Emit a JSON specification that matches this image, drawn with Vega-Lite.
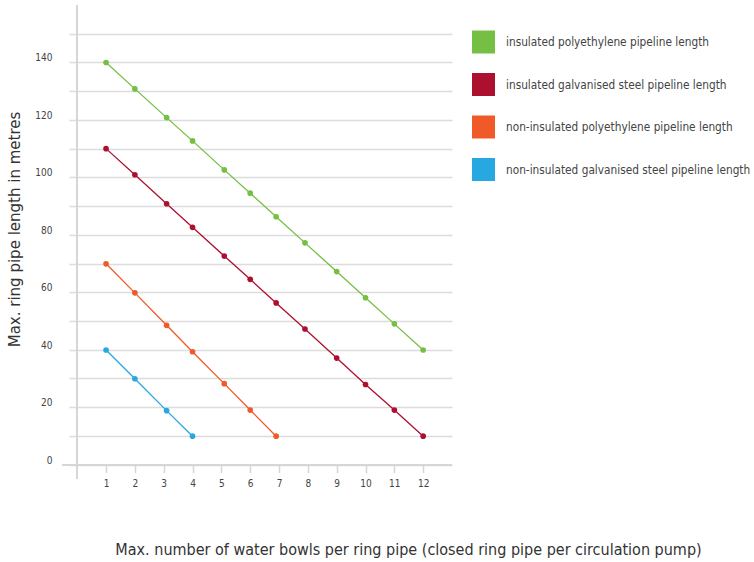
{
  "$schema": "https://vega.github.io/schema/vega-lite/v6.json",
  "width": 383,
  "height": 474,
  "autosize": {"type": "none"},
  "padding": {"left": 69, "top": 5, "right": 302, "bottom": 83},
  "background": "white",
  "config": {
    "view": {"stroke": null},
    "font": "Liberation Sans Narrow, DejaVu Sans Condensed, sans-serif"
  },
  "data": {
    "values": [
      {"series": "insulated polyethylene pipeline length", "bowls": 1, "length": 140},
      {"series": "insulated polyethylene pipeline length", "bowls": 2, "length": 130.8},
      {"series": "insulated polyethylene pipeline length", "bowls": 3.1, "length": 120.8},
      {"series": "insulated polyethylene pipeline length", "bowls": 4, "length": 112.7},
      {"series": "insulated polyethylene pipeline length", "bowls": 5.1, "length": 102.6},
      {"series": "insulated polyethylene pipeline length", "bowls": 6, "length": 94.5},
      {"series": "insulated polyethylene pipeline length", "bowls": 6.9, "length": 86.3},
      {"series": "insulated polyethylene pipeline length", "bowls": 7.9, "length": 77.2},
      {"series": "insulated polyethylene pipeline length", "bowls": 9, "length": 67.2},
      {"series": "insulated polyethylene pipeline length", "bowls": 10, "length": 58.1},
      {"series": "insulated polyethylene pipeline length", "bowls": 11, "length": 49},
      {"series": "insulated polyethylene pipeline length", "bowls": 12, "length": 39.9},
      {"series": "insulated galvanised steel pipeline length", "bowls": 1, "length": 110},
      {"series": "insulated galvanised steel pipeline length", "bowls": 2, "length": 100.9},
      {"series": "insulated galvanised steel pipeline length", "bowls": 3.1, "length": 90.8},
      {"series": "insulated galvanised steel pipeline length", "bowls": 4, "length": 82.6},
      {"series": "insulated galvanised steel pipeline length", "bowls": 5.1, "length": 72.6},
      {"series": "insulated galvanised steel pipeline length", "bowls": 6, "length": 64.5},
      {"series": "insulated galvanised steel pipeline length", "bowls": 6.9, "length": 56.3},
      {"series": "insulated galvanised steel pipeline length", "bowls": 7.9, "length": 47.2},
      {"series": "insulated galvanised steel pipeline length", "bowls": 9, "length": 37.1},
      {"series": "insulated galvanised steel pipeline length", "bowls": 10, "length": 27.9},
      {"series": "insulated galvanised steel pipeline length", "bowls": 11, "length": 19},
      {"series": "insulated galvanised steel pipeline length", "bowls": 12, "length": 9.9},
      {"series": "non-insulated polyethylene pipeline length", "bowls": 1, "length": 69.9},
      {"series": "non-insulated polyethylene pipeline length", "bowls": 2, "length": 59.8},
      {"series": "non-insulated polyethylene pipeline length", "bowls": 3.1, "length": 48.5},
      {"series": "non-insulated polyethylene pipeline length", "bowls": 4, "length": 39.3},
      {"series": "non-insulated polyethylene pipeline length", "bowls": 5.1, "length": 28.2},
      {"series": "non-insulated polyethylene pipeline length", "bowls": 6, "length": 19},
      {"series": "non-insulated polyethylene pipeline length", "bowls": 6.9, "length": 9.9},
      {"series": "non-insulated galvanised steel pipeline length", "bowls": 1, "length": 39.9},
      {"series": "non-insulated galvanised steel pipeline length", "bowls": 2, "length": 29.9},
      {"series": "non-insulated galvanised steel pipeline length", "bowls": 3.1, "length": 18.8},
      {"series": "non-insulated galvanised steel pipeline length", "bowls": 4, "length": 9.9}
    ]
  },
  "layer": [
    {
      "mark": {"type": "rule", "color": "#d6d6d6", "strokeWidth": 1.5},
      "encoding": {"x": {"datum": 0}}
    },
    {
      "mark": {"type": "rule", "color": "#d6d6d6", "strokeWidth": 1.5},
      "encoding": {"y": {"datum": 0}, "x": {"datum": -0.5}, "x2": {"datum": 13}}
    },
    {
      "encoding": {
        "x": {
          "field": "bowls",
          "type": "quantitative",
          "scale": {"domain": [-0.285, 13], "nice": false, "zero": false},
          "axis": {
            "values": [1, 2, 3, 4, 5, 6, 7, 8, 9, 10, 11, 12],
            "tickCount": 40,
            "format": "d",
            "offset": -14.4,
            "grid": false,
            "domain": false,
            "ticks": true,
            "tickColor": "#d6d6d6",
            "tickWidth": 1.5,
            "tickSize": 8,
            "labelPadding": 6,
            "labelFontSize": 10,
            "labelColor": "#444444",
            "labelOverlap": false,
            "title": "Max. number of water bowls per ring pipe (closed ring pipe per circulation pump)",
            "titleFontSize": 16,
            "titleFontWeight": "normal",
            "titleColor": "#333333",
            "titleX": 339,
            "titleY": 85,
            "titleBaseline": "middle",
            "titleAlign": "center",
            "titleAnchor": null
          }
        },
        "y": {
          "field": "length",
          "type": "quantitative",
          "scale": {"domain": [-5, 160], "nice": false, "zero": false},
          "axis": {
            "values": [0, 10, 20, 30, 40, 50, 60, 70, 80, 90, 100, 110, 120, 130, 140, 150],
            "tickCount": 40,
            "format": "d",
            "labelExpr": "datum.value % 20 == 0 && datum.value < 150 ? datum.label : ''",
            "grid": true,
            "gridColor": "#dcdcdc",
            "gridWidth": 1.5,
            "domain": false,
            "ticks": false,
            "labelPadding": 17,
            "labelOffset": -4.5,
            "labelFontSize": 10,
            "labelColor": "#444444",
            "labelOverlap": false,
            "title": "Max. ring pipe length in metres",
            "titleFontSize": 16.7,
            "titleFontWeight": "normal",
            "titleColor": "#333333",
            "titleX": -55,
            "titleY": 224,
            "titleBaseline": "middle",
            "titleAlign": "center",
            "titleAngle": -90
          }
        },
        "color": {
          "field": "series",
          "type": "nominal",
          "scale": {
            "domain": [
              "insulated polyethylene pipeline length",
              "insulated galvanised steel pipeline length",
              "non-insulated polyethylene pipeline length",
              "non-insulated galvanised steel pipeline length"
            ],
            "range": ["#74bf44", "#ad0f2e", "#f05a28", "#27a8e0"]
          },
          "legend": {
            "title": null,
            "orient": "none",
            "legendX": 403,
            "legendY": 25.5,
            "symbolType": "square",
            "symbolSize": 529,
            "symbolStrokeWidth": 0,
            "symbolOpacity": 1,
            "symbolFillColor": "#888888",
            "labelFontSize": 11.75,
            "labelColor": "#444444",
            "labelOffset": 11,
            "rowPadding": 19.5,
            "labelLimit": 400
          }
        }
      },
      "layer": [
        {
          "mark": {"type": "line", "strokeWidth": 1.3}
        },
        {
          "mark": {"type": "point", "filled": true, "opacity": 1, "size": 32, "shape": "circle"}
        }
      ]
    }
  ]
}
